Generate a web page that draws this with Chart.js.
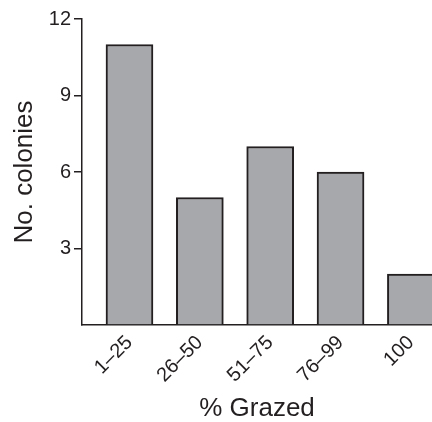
<!DOCTYPE html>
<html>
<head>
<meta charset="utf-8">
<script src="https://cdn.jsdelivr.net/npm/chart.js@4/dist/chart.umd.min.js"></script>
<style>
  html, body { margin: 0; padding: 0; background: #fff; overflow: hidden; }
  #wrap { width: 432px; height: 422px; position: relative; }
</style>
</head>
<body>
<div id="wrap"><canvas id="myChart"></canvas></div>
<script>
const categories = ['1–25', '26–50', '51–75', '76–99', '100'];
const colonies = [11, 5, 7, 6, 2];
const yTicks = [0, 3, 6, 9, 12];

const ink = '#231f20';
Chart.defaults.font.family = '"Liberation Sans", Arial, Helvetica, sans-serif';
Chart.defaults.color = ink;

const data = {
    datasets: [{
        data: colonies.map((v, i) => ({ x: i, y: v })),
        backgroundColor: '#a7a8ab',
        borderColor: ink,
        borderWidth: 2,
        borderSkipped: 'bottom',
        barThickness: 47,
        clip: false
    }]
};

const config = {
    type: 'bar',
    data: data,
    options: {
        responsive: true,
        maintainAspectRatio: false,
        animation: false,
        layout: { padding: { top: 19, right: 0, bottom: 0, left: 0 } },
        plugins: {
            legend: { display: false },
            tooltip: { enabled: false }
        },
        scales: {
            x: {
                type: 'linear',
                min: -0.675,
                max: 4.3,
                offset: false,
                grid: { display: false, drawTicks: false, offset: false },
                border: { display: true, color: ink, width: 1.5 },
                afterBuildTicks: (scale) => {
                    scale.ticks = categories.map((c, i) => ({ value: i }));
                },
                ticks: {
                    autoSkip: false,
                    minRotation: 45,
                    maxRotation: 45,
                    padding: 6,
                    font: { size: 20 },
                    callback: (v) => categories[v]
                },
                title: {
                    display: true,
                    text: '% Grazed',
                    font: { size: 26, lineHeight: 1 },
                    padding: { top: 0, bottom: 0 }
                },
                afterFit: (scale) => {
                    scale.height = 97;
                    scale.paddingLeft = 0;
                    scale.paddingRight = 0;
                }
            },
            y: {
                min: 0,
                max: 12,
                afterBuildTicks: (scale) => {
                    scale.ticks = yTicks.map(v => ({ value: v }));
                },
                grid: {
                    drawOnChartArea: false,
                    drawTicks: true,
                    tickLength: 8,
                    lineWidth: 1.5,
                    color: (ctx) => ctx.tick && ctx.tick.value === 0 ? 'rgba(0,0,0,0)' : ink
                },
                border: { display: true, color: ink, width: 1.5 },
                ticks: {
                    padding: 3,
                    font: { size: 20 },
                    callback: (v) => v === 0 ? '' : v
                },
                title: {
                    display: true,
                    text: 'No. colonies',
                    font: { size: 26, lineHeight: 1 },
                    padding: { top: 12, bottom: 0 }
                },
                afterFit: (scale) => {
                    scale.width = 82;
                }
            }
        }
    }
};

const myChart = new Chart(document.getElementById('myChart'), config);
</script>
</body>
</html>
